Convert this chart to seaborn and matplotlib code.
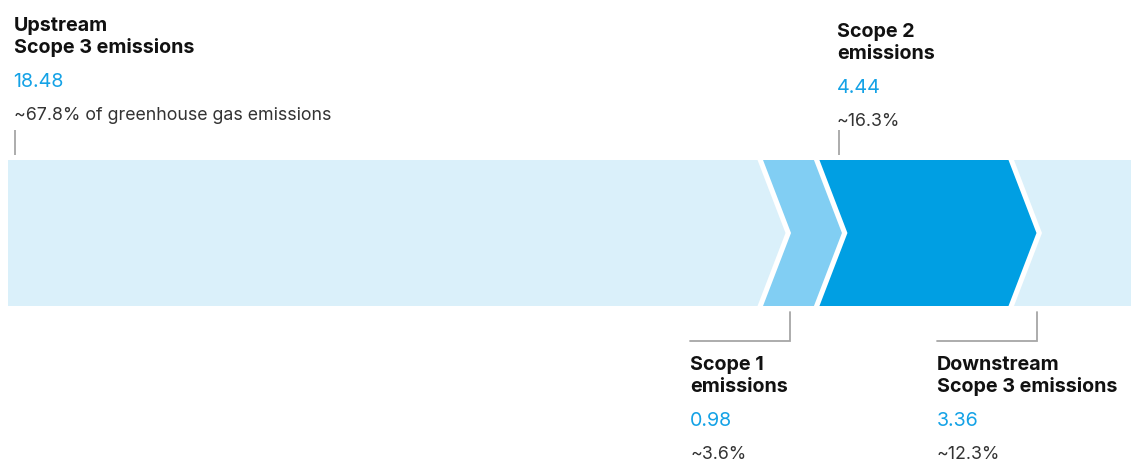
import matplotlib
matplotlib.use("Agg")
import matplotlib.pyplot as plt
from matplotlib.patches import Polygon
import seaborn as sns

# ---- data ----
categories = ["Upstream\nScope 3 emissions", "Scope 1\nemissions",
              "Scope 2\nemissions", "Downstream\nScope 3 emissions"]
values = [18.48, 0.98, 4.44, 3.36]
shares = ["~67.8% of greenhouse gas emissions", "~3.6%", "~16.3%", "~12.3%"]
value_labels = ["18.48", "0.98", "4.44", "3.36"]
label_side = ["top", "bottom", "top", "bottom"]

# ---- style ----
sns.set_theme(style="white")
plt.rcParams["font.family"] = ["Inter", "DejaVu Sans"]
colors = ["#DAF0FA", "#81CEF3", "#009FE3", "#DAF0FA"]
BLUE_TXT = "#14A2E6"
GREY_TXT = "#333333"
LINE = "#A6A6A6"

W_PX, H_PX = 1131, 477
PX_PER_UNIT = 39.92
X0_PX = 8
SPACING = 17.3 / PX_PER_UNIT     # extra space per segment
DEPTH = 28 / PX_PER_UNIT         # chevron depth
GAP = 5.5 / PX_PER_UNIT          # white gap
BAR_TOP, BAR_BOT = 161, 307
FS_TITLE = 14.2
FS_VALUE = 14.2
FS_SHARE = 12.8


def px2x(px):
    return (px - X0_PX) / PX_PER_UNIT


fig = plt.figure(figsize=(W_PX / 100, H_PX / 100), dpi=100)
ax = fig.add_axes([0, 0, 1, 1])
ax.set_xlim(px2x(0), px2x(W_PX))
ax.set_ylim(H_PX, 0)
ax.axis("off")

ymid = (BAR_TOP + BAR_BOT) / 2
starts = []
s = 0.0
for i, v in enumerate(values):
    starts.append(s)
    right = s + v + SPACING - GAP
    pts = [(s, BAR_TOP), (right, BAR_TOP), (right + DEPTH, ymid),
           (right, BAR_BOT), (s, BAR_BOT)]
    if i > 0:
        pts.append((s + DEPTH, ymid))
    ax.add_patch(Polygon(pts, closed=True, facecolor=colors[i],
                         edgecolor="none", zorder=2))
    s = s + v + SPACING

# label layout (pixel offsets relative to segment start)
leader_off = [7, DEPTH * PX_PER_UNIT - 1, 20, DEPTH * PX_PER_UNIT - 5]
text_off = [-1.5, None, -2.5, None]
top_base = [31, None, 37, None]


def block(tx, base, i):
    l1, l2 = categories[i].split("\n")
    ax.text(tx, base, l1, fontsize=FS_TITLE, fontweight="bold",
            color="#111111", va="baseline")
    ax.text(tx, base + 22, l2, fontsize=FS_TITLE, fontweight="bold",
            color="#111111", va="baseline")
    ax.text(tx, base + 56, value_labels[i], fontsize=FS_VALUE,
            color=BLUE_TXT, va="baseline")
    ax.text(tx, base + 89, shares[i], fontsize=FS_SHARE,
            color=GREY_TXT, va="baseline")


for i in range(len(values)):
    lx = starts[i] + leader_off[i] / PX_PER_UNIT
    if label_side[i] == "top":
        ax.plot([lx, lx], [131, 156], color=LINE, lw=1.3,
                solid_capstyle="butt", zorder=1)
        block(lx + text_off[i] / PX_PER_UNIT, top_base[i], i)
    else:
        tx = lx - 100 / PX_PER_UNIT
        ax.plot([lx, lx, tx], [313, 342, 342], color=LINE, lw=1.3,
                solid_joinstyle="miter", zorder=1)
        block(tx, 370, i)

fig.savefig("out.png", dpi=100, facecolor="white")
